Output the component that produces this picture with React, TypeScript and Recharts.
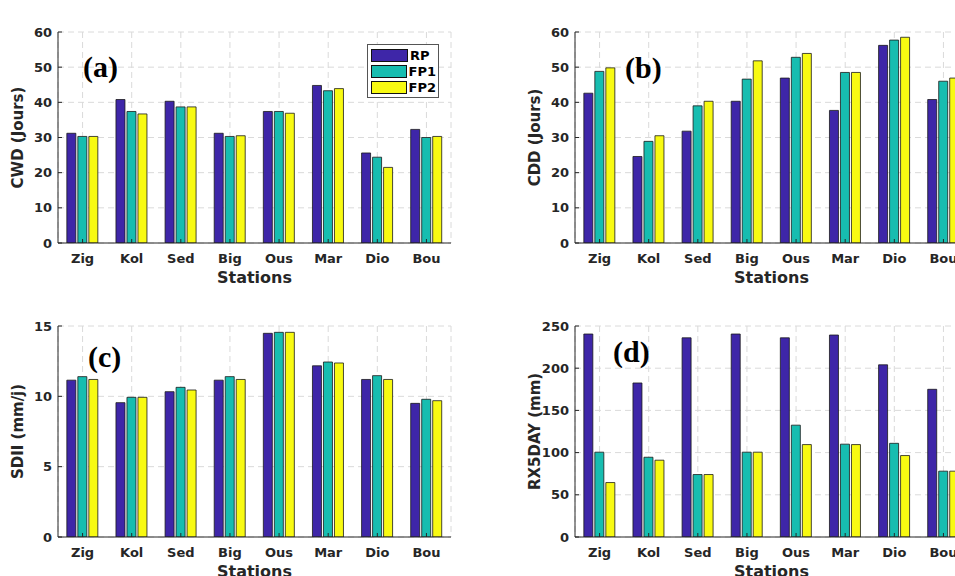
import { BarChart, Bar, XAxis, YAxis, CartesianGrid, Legend } from "recharts";

const stations = ["Zig", "Kol", "Sed", "Big", "Ous", "Mar", "Dio", "Bou"];
const seriesNames = ["RP", "FP1", "FP2"];
const seriesColors = ["#3e26a8", "#17bdb0", "#f8fa12"];

// (a) consecutive wet days
const cwdRP = [31.2, 40.8, 40.3, 31.2, 37.4, 44.8, 25.6, 32.3];
const cwdFP1 = [30.3, 37.4, 38.7, 30.3, 37.4, 43.3, 24.4, 30.0];
const cwdFP2 = [30.3, 36.7, 38.7, 30.5, 36.9, 43.9, 21.5, 30.3];

// (b) consecutive dry days
const cddRP = [42.6, 24.6, 31.8, 40.3, 46.9, 37.7, 56.2, 40.8];
const cddFP1 = [48.8, 28.9, 39.0, 46.6, 52.8, 48.5, 57.7, 46.0];
const cddFP2 = [49.8, 30.5, 40.3, 51.8, 53.9, 48.5, 58.5, 46.9];

// (c) daily intensity index
const sdiiRP = [11.15, 9.55, 10.33, 11.15, 14.48, 12.17, 11.2, 9.5];
const sdiiFP1 = [11.4, 9.93, 10.64, 11.4, 14.55, 12.44, 11.47, 9.79];
const sdiiFP2 = [11.2, 9.93, 10.45, 11.2, 14.55, 12.37, 11.2, 9.69];

// (d) highest five days precipitation
const rx5RP = [240.5, 182.5, 236, 240.5, 236, 239.3, 204, 175];
const rx5FP1 = [100.5, 94.5, 74, 100.5, 132.5, 110, 111, 78];
const rx5FP2 = [64.5, 91, 74, 100.5, 109.5, 109.5, 96.5, 78];

const cwdTicks = [0, 10, 20, 30, 40, 50, 60];
const sdiiTicks = [0, 5, 10, 15];
const rx5Ticks = [0, 50, 100, 150, 200, 250];

const toRows = (a: number[], b: number[], c: number[]) =>
  stations.map((s, i) => ({ station: s, RP: a[i], FP1: b[i], FP2: c[i] }));

const axisColor = "#262626";
const tickStyle = { fill: axisColor, fontSize: 13, fontWeight: 700 };

function LegendBox({ payload }: any) {
  // keep series order (RP, FP1, FP2) rather than the sorted payload order
  const items = seriesNames.map((n, i) => {
    const p = (payload || []).find((e: any) => e.value === n);
    return { name: n, color: p ? p.color : seriesColors[i] };
  });
  return (
    <div
      style={{
        border: "1px solid #555",
        background: "#fff",
        padding: "2px 2px 2px 3px",
        fontFamily: "DejaVu Sans",
        fontWeight: 700,
        fontSize: 13,
        color: "#000",
      }}
    >
      {items.map((it) => (
        <div key={it.name} style={{ display: "flex", alignItems: "center", height: 16 }}>
          <span
            style={{
              display: "inline-block",
              width: 35,
              height: 11,
              background: it.color,
              border: "1px solid #111",
              marginRight: 2,
            }}
          />
          {it.name}
        </div>
      ))}
    </div>
  );
}

interface PanelProps {
  left: number;
  top: number;
  title: string;
  yLabel: string;
  rows: { station: string; RP: number; FP1: number; FP2: number }[];
  ticks: number[];
  legend?: boolean;
}

function Panel({ left, top, title, yLabel, rows, ticks, legend }: PanelProps) {
  const domain: [number, number] = [0, ticks[ticks.length - 1]];
  return (
    <div style={{ position: "absolute", left, top }}>
      <BarChart
        width={470}
        height={290}
        data={rows}
        margin={{ top: 32, right: 19, bottom: 3, left: 0 }}
        barCategoryGap="18%"
        barGap={2}
      >
        <CartesianGrid stroke="#dadada" strokeDasharray="6 4" />
        <XAxis
          dataKey="station"
          height={44}
          stroke={axisColor}
          tick={tickStyle}
          tickSize={-4}
          tickMargin={15}
          interval={0}
          label={{
            value: "Stations",
            position: "insideBottom",
            offset: 4,
            fill: axisColor,
            fontSize: 16,
            fontWeight: 700,
          }}
        />
        <XAxis
          xAxisId="t"
          dataKey="station"
          orientation="top"
          height={0}
          stroke={axisColor}
          tick={() => <g />}
          tickSize={-4}
          interval={0}
          label={{
            value: title,
            position: "top",
            offset: 8,
            fill: "#000",
            fontSize: 14,
            fontWeight: 700,
          }}
        />
        <YAxis
          width={58}
          domain={domain}
          ticks={ticks}
          stroke={axisColor}
          tick={tickStyle}
          tickSize={-4}
          tickMargin={10}
          allowDataOverflow
          label={{
            value: yLabel,
            angle: -90,
            position: "insideLeft",
            offset: 18,
            fill: axisColor,
            fontSize: 15,
            fontWeight: 700,
            style: { textAnchor: "middle" },
          }}
        />
        <YAxis
          yAxisId="r"
          orientation="right"
          width={0}
          domain={domain}
          ticks={ticks}
          stroke={axisColor}
          tick={() => <g />}
          tickSize={-4}
        />
        {legend && (
          <Legend
            layout="vertical"
            align="center"
            verticalAlign="middle"
            content={<LegendBox />}
            wrapperStyle={{ position: "absolute", left: 367, top: 44, width: 72 }}
          />
        )}
        {seriesNames.map((n, i) => (
          <Bar
            key={n}
            dataKey={n}
            name={n}
            fill={seriesColors[i]}
            stroke="#1a1a1a"
            strokeWidth={0.8}
            isAnimationActive={false}
          />
        ))}
      </BarChart>
    </div>
  );
}

const tagStyle = {
  position: "absolute" as const,
  fontFamily: "Liberation Serif",
  fontWeight: 700,
  fontSize: 30,
  lineHeight: "30px",
  color: "#000",
};

export default function App() {
  return (
    <div
      style={{
        position: "absolute",
        left: 0,
        top: 0,
        width: 955,
        height: 576,
        overflow: "hidden",
        background: "#fff",
        fontFamily: "DejaVu Sans",
      }}
    >
      <Panel left={0} top={0} title="Consecutive Wet Days" yLabel="CWD (Jours)" rows={toRows(cwdRP, cwdFP1, cwdFP2)} ticks={cwdTicks} legend />
      <Panel left={517} top={0} title="Consecutive Dry Days" yLabel="CDD (Jours)" rows={toRows(cddRP, cddFP1, cddFP2)} ticks={cwdTicks} />
      <Panel left={0} top={294} title="Daily Intensity Index" yLabel="SDII (mm/j)" rows={toRows(sdiiRP, sdiiFP1, sdiiFP2)} ticks={sdiiTicks} />
      <Panel left={517} top={294} title="Highest five days precipitation amount" yLabel="RX5DAY (mm)" rows={toRows(rx5RP, rx5FP1, rx5FP2)} ticks={rx5Ticks} />
      <div style={{ ...tagStyle, left: 83, top: 52 }}>(a)</div>
      <div style={{ ...tagStyle, left: 625, top: 53 }}>(b)</div>
      <div style={{ ...tagStyle, left: 88, top: 342 }}>(c)</div>
      <div style={{ ...tagStyle, left: 613, top: 337 }}>(d)</div>
    </div>
  );
}
